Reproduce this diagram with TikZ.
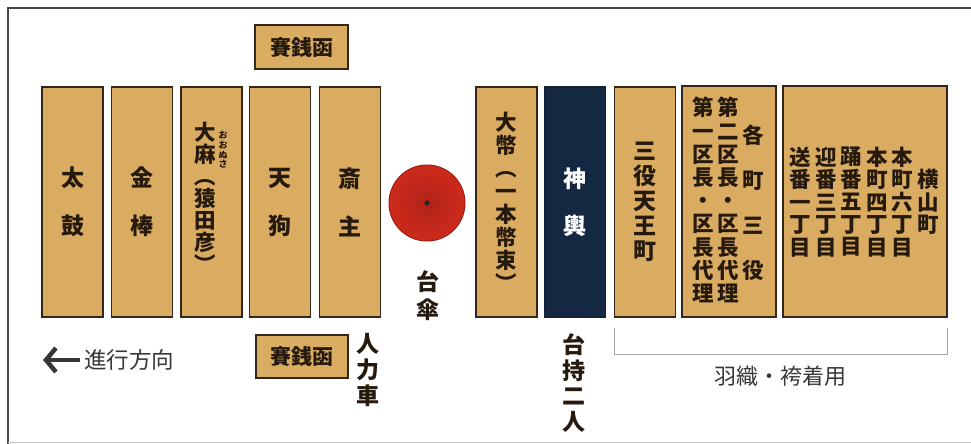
\documentclass[tikz,border=0pt]{standalone}
\usepackage{fontspec}
\usetikzlibrary{arrows.meta}
\newfontfamily\cjk{Noto Sans CJK JP}
\definecolor{tan}{RGB}{218,172,98}
\definecolor{edge}{RGB}{52,38,24}
\definecolor{ink}{RGB}{38,26,14}
\definecolor{navy}{RGB}{20,40,66}
\definecolor{umb}{RGB}{206,42,28}
\definecolor{frame}{RGB}{70,70,70}
\definecolor{soft}{RGB}{55,55,55}
\tikzset{
  box/.style={draw=edge, fill=tan, line width=1.8pt, inner sep=0pt, text=ink, align=center},
  vt/.style={font=\cjk\bfseries\fontsize{23}{#1}\selectfont, align=center, inner sep=0pt},
  vs/.style={font=\cjk\bfseries\fontsize{21.5}{#1}\selectfont, align=center, inner sep=0pt},
  tall/.style={minimum width=61pt, minimum height=230pt},
}
\begin{document}
\begin{tikzpicture}[x=1pt,y=-1pt]
\useasboundingbox (0,0) rectangle (971,444);
\fill[white] (0,0) rectangle (971,444);
% frame
\draw[frame, line width=1.8pt] (8,444) -- (8,8) -- (971,8);
\draw[gray!45, line width=1pt] (8,442.5) -- (971,442.5);

% left boxes
\node[box, tall, vt=48] (taiko) at (72.5,202) {太\\鼓};
\node[box, tall, vt=48] (kanabo) at (142,202) {金\\棒};
\node[box, tall] (onusa) at (211.5,202) {};
\node[vs=22, text=ink, anchor=north] (onusatxt) at (205,122) {大\\麻\\︵\\猿\\田\\彦\\︶};
\node[font=\cjk\bfseries\fontsize{9}{9.8}\selectfont, align=center, inner sep=0pt, text=ink, anchor=north] (ruby) at (223,131) {お\\お\\ぬ\\さ};
\node[box, tall, vt=48] (tengu) at (280,202) {天\\狗};
\node[box, tall, vt=48] (saishu) at (350,202) {斎\\主};

% offertory boxes
\node[box, minimum width=93pt, minimum height=44pt, font=\cjk\bfseries\fontsize{21}{21}\selectfont] (saisen1) at (301.5,47) {賽銭函};
\node[box, minimum width=92pt, minimum height=43pt, font=\cjk\bfseries\fontsize{21}{21}\selectfont] (saisen2) at (302,356.5) {賽銭函};
\node[vt=26, text=ink] (jinriki) at (368,370) {人\\力\\車};

% umbrella
\shade[inner color=umb!85!black, outer color=umb] (427,203) circle (38);
\node[circle, draw=umb!75!black, line width=1pt, minimum size=76pt, inner sep=0pt] (kasa) at (427,203) {};
\fill[black!85] (427,203) circle (2.6);
\node[vt=28, text=ink] (daigasa) at (428,296) {台\\傘};

% center boxes
\node[box, tall, vs=23] (ohnusa) at (506.5,202) {大\\幣\\︵\\一\\本\\幣\\束\\︶};
\node[box, tall, fill=navy, draw=navy!80!black, text=white, vt=47] (mikoshi) at (575,202) {神\\輿};
\node[vt=25.5, text=ink] (daimochi) at (574,383) {台\\持\\二\\人};
\node[box, tall, vt=25] (sanyaku) at (645,202) {三\\役\\天\\王\\町};

% district heads box
\node[box, minimum width=94pt, minimum height=231pt] (kucho) at (729,201.5) {};
\node[vs=23.2, text=ink] (k1) at (703,200) {第\\一\\区\\長\\・\\区\\長\\代\\理};
\node[vs=23.2, text=ink] (k2) at (728,200) {第\\二\\区\\長\\・\\区\\長\\代\\理};
\node[vs=45, text=ink] (k3) at (753,202.5) {各\\町\\三\\役};

% town box
\node[box, minimum width=164pt, minimum height=231pt] (towns) at (865,201.5) {};
\node[vs=22.5, text=ink] (t1) at (800.5,202) {送\\番\\一\\丁\\目};
\node[vs=22.5, text=ink] (t2) at (826,202) {迎\\番\\三\\丁\\目};
\node[vs=22.5, text=ink] (t3) at (851.5,202) {踊\\番\\五\\丁\\目};
\node[vs=22.5, text=ink] (t4) at (877,202) {本\\町\\四\\丁\\目};
\node[vs=22.5, text=ink] (t5) at (902.5,202) {本\\町\\六\\丁\\目};
\node[vs=22.5, text=ink] (t6) at (928,202) {横\\山\\町};

% bracket
\coordinate (bl) at (614,328);
\coordinate (br) at (947,328);
\draw[gray!70, line width=1pt] (bl) -- ++(0,26) -| (br);
\node[font=\cjk\fontsize{22}{22}\selectfont, text=soft, inner sep=0pt] (haori) at (780,376) {羽織・袴着用};

% direction
\coordinate (arrowtail) at (80,360);
\coordinate (arrowtip) at (43,360);
\draw[soft, line width=4.5pt, -{Straight Barb[length=10pt,width=24pt]}] (arrowtail) -- (arrowtip);
\node[font=\cjk\fontsize{22.5}{22.5}\selectfont, text=soft, inner sep=0pt, anchor=west] (shinko) at (84,360) {進行方向};
\end{tikzpicture}
\end{document}
